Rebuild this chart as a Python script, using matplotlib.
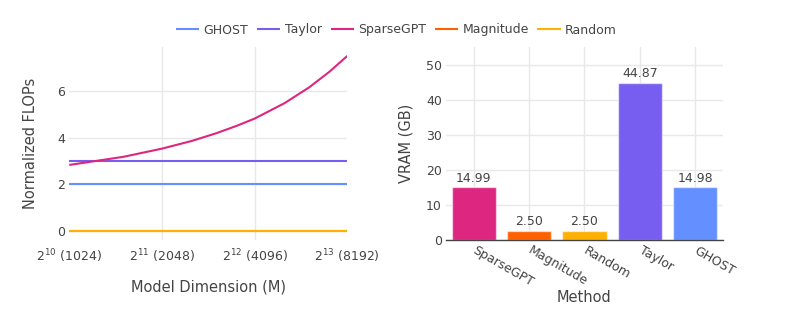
import matplotlib
matplotlib.use("Agg")
import matplotlib.pyplot as plt
from matplotlib.ticker import NullFormatter

# datos del grafico de FLOPs
model_dims = [1024, 1536, 2048, 2560, 3072, 3584, 4096, 5120, 6144, 7168, 8192]
flops_sparsegpt = [2.83, 3.18, 3.53, 3.86, 4.19, 4.51, 4.82, 5.48, 6.15, 6.83, 7.51]
flops_ghost = [2.0] * len(model_dims)
flops_taylor = [3.0] * len(model_dims)
flops_magnitude = [0.0] * len(model_dims)
flops_random = [0.0] * len(model_dims)
dim_ticks = [1024, 2048, 4096, 8192]
dim_labels = [r'$2^{10}$ (1024)', r'$2^{11}$ (2048)', r'$2^{12}$ (4096)', r'$2^{13}$ (8192)']

# datos del grafico de VRAM
methods = ['SparseGPT', 'Magnitude', 'Random', 'Taylor', 'GHOST']
vram_gb = [14.99, 2.50, 2.50, 44.87, 14.98]

colors = {'GHOST': '#648FFF', 'Taylor': '#785EF0', 'SparseGPT': '#DC267F',
          'Magnitude': '#FE6100', 'Random': '#FFB000'}
text_col = '#444444'
grid_col = '#e8e8e8'

plt.rcParams['font.family'] = 'DejaVu Sans'
plt.rcParams['mathtext.fontset'] = 'dejavusans'

fig = plt.figure(figsize=(7.93, 3.17), dpi=100)
ax1 = fig.add_axes([0.0874, 0.2429, 0.3506, 0.6088])
ax2 = fig.add_axes([0.5624, 0.2429, 0.3493, 0.6088])

# --- panel izquierdo: lineas ---
series = [('GHOST', flops_ghost), ('Taylor', flops_taylor), ('SparseGPT', flops_sparsegpt),
          ('Magnitude', flops_magnitude), ('Random', flops_random)]
handles = []
for name, vals in series:
    h, = ax1.plot(model_dims, vals, color=colors[name], lw=1.5, label=name, solid_capstyle='butt')
    handles.append(h)
ax1.set_xscale('log', base=2)
ax1.set_xlim(1024, 8192)
ax1.set_ylim(-0.39, 7.89)
ax1.set_xticks(dim_ticks)
ax1.set_xticklabels(dim_labels)
ax1.xaxis.remove_overlapping_locs = False
ax1.set_xticks(dim_ticks[1:-1], minor=True)   # rejilla solo en los ticks interiores
ax1.xaxis.set_minor_formatter(NullFormatter())
ax1.set_yticks([0, 2, 4, 6])
ax1.grid(True, axis='y', color=grid_col, lw=1)
ax1.grid(True, axis='x', which='minor', color=grid_col, lw=1)
ax1.set_axisbelow(True)
ax1.set_xlabel('Model Dimension (M)', fontsize=10.5, color=text_col)
ax1.set_ylabel('Normalized FLOPs', fontsize=10.5, color=text_col)
ax1.xaxis.label.set_va('center')
ax1.yaxis.label.set_va('center')
ax1.xaxis.set_label_coords(0.5, -0.246)
ax1.yaxis.set_label_coords(-0.141, 0.5)
ax1.tick_params(axis='both', which='both', length=0, labelsize=9, labelcolor=text_col)
ax1.tick_params(axis='x', pad=5)
ax1.tick_params(axis='y', pad=3)
for s in ax1.spines.values():
    s.set_visible(False)

# --- panel derecho: barras ---
xpos = range(len(methods))
bars = ax2.bar(xpos, vram_gb, width=0.8, color=[colors[m] for m in methods],
               edgecolor=(1, 1, 1, 0.55), linewidth=1, zorder=2)
for b, v in zip(bars, vram_gb):
    ax2.annotate(f'{v:.2f}', (b.get_x() + b.get_width() / 2, v), xytext=(0, 2),
                 textcoords='offset points', ha='center', va='bottom',
                 fontsize=9, color=text_col)
ax2.set_xlim(-0.5, 4.5)
ax2.set_ylim(0, 55)
ax2.set_xticks(list(xpos))
ax2.set_xticklabels(methods, rotation=-30, ha='left', va='center', rotation_mode='anchor')
ax2.set_yticks([0, 10, 20, 30, 40, 50])
ax2.grid(True, color=grid_col, lw=1)
ax2.set_axisbelow(True)
ax2.set_xlabel('Method', fontsize=10.5, color=text_col)
ax2.set_ylabel('VRAM (GB)', fontsize=10.5, color=text_col)
ax2.xaxis.label.set_va('center')
ax2.yaxis.label.set_va('center')
ax2.xaxis.set_label_coords(0.5, -0.30)
ax2.yaxis.set_label_coords(-0.144, 0.5)
ax2.tick_params(axis='both', length=0, labelsize=9, labelcolor=text_col)
ax2.tick_params(axis='x', pad=7)
ax2.tick_params(axis='y', pad=3)
for k, s in ax2.spines.items():
    s.set_visible(k == 'bottom')
ax2.spines['bottom'].set_color(text_col)
ax2.spines['bottom'].set_linewidth(1)
ax2.spines['bottom'].set_zorder(3)

fig.legend(handles=handles, loc='center', bbox_to_anchor=(0.5, 1 - 30 / 317), ncol=5,
           frameon=False, fontsize=9, handlelength=1.85, handletextpad=0.35,
           columnspacing=0.7, labelcolor=text_col)

fig.savefig('out.png', dpi=100)
